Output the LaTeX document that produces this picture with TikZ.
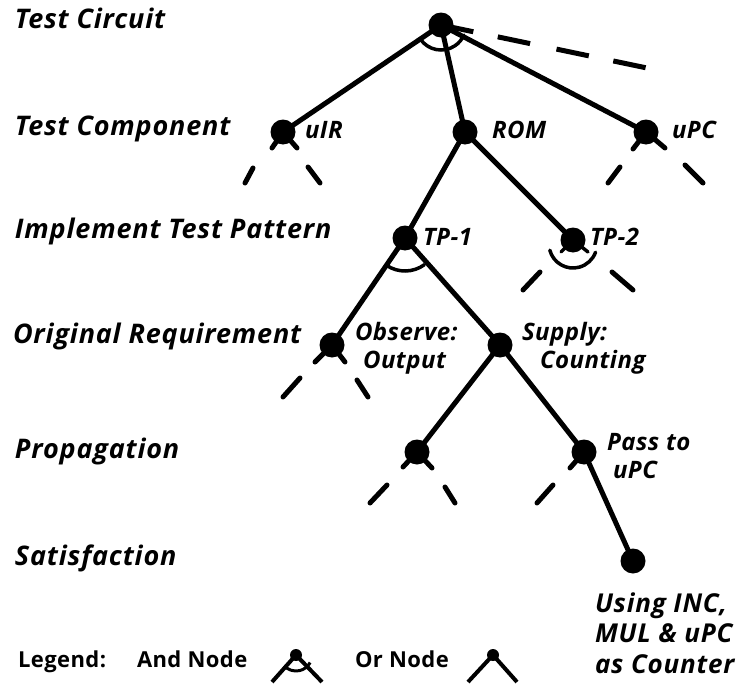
\documentclass[tikz,border=0pt]{standalone}
\usepackage{fontspec}
\setmainfont{Open Sans}
\newfontfamily\spacedfont{Open Sans}[LetterSpace=3]
\newfontfamily\tagfont{Open Sans}[LetterSpace=2]
\begin{document}
\begin{tikzpicture}[x=1pt,y=-1pt,
  every node/.style={inner sep=0pt, outer sep=0pt},
  edge/.style={line width=5pt, line cap=round},
  cupline/.style={line width=3.5pt, line cap=round},
  dot/.style={circle, fill=black, minimum size=25pt},
  smalldot/.style={circle, fill=black, minimum size=12pt},
  level/.style={anchor=base west, font=\spacedfont\fontsize{27}{30}\selectfont\bfseries\itshape},
  tag/.style={anchor=base west, align=left, font=\tagfont\fontsize{24}{28}\selectfont\bfseries\itshape},
  legendtext/.style={anchor=base west, font=\tagfont\fontsize{22}{26}\selectfont\bfseries}]
\useasboundingbox (0,0) rectangle (740,688);

% level captions
\node[level] (l1) at (15,28) {Test Circuit};
\node[level] (l2) at (15,135) {Test Component};
\node[level] (l3) at (15,238) {Implement Test Pattern};
\node[level] (l4) at (13,343) {Original Requirement};
\node[level] (l5) at (15,458) {Propagation};
\node[level] (l6) at (15,565) {Satisfaction};

% tree edges from the root (dots go on top)
\coordinate (rootfar) at (647,68);
\draw[edge] (441,25) coordinate (rc) -- (283,132);
\draw[edge] (rc) -- (465,132);
\draw[edge] (rc) -- (646,132);
\draw[edge, line cap=butt, dash pattern=on 33pt off 25pt on 33pt off 27pt] (rc) -- (rootfar);

% tree nodes
\node[dot] (root) at (441,25) {};
\node[dot] (uir) at (283,132) {};
\node[dot] (rom) at (465,132) {};
\node[dot] (upc) at (646,132) {};
\node[dot] (tp1) at (405,238) {};
\node[dot] (tp2) at (573,240) {};
\node[dot] (obs) at (332,345) {};
\node[dot] (sup) at (500,345) {};
\node[dot] (prl) at (417,452) {};
\node[dot] (pass) at (584,452) {};
\node[dot] (sat) at (633,561) {};

\draw[edge] (rom.center) -- (tp1.center);
\draw[edge] (rom.center) -- (tp2.center);
\draw[edge] (tp1.center) -- (obs.center);
\draw[edge] (tp1.center) -- (sup.center);
\draw[edge] (sup.center) -- (prl.center);
\draw[edge] (sup.center) -- (pass.center);
\draw[edge] (pass.center) -- (sat.center);

% and-cups
\draw[cupline] (root.center) ++(214:25pt) arc[start angle=214, end angle=336, radius=25pt];
\draw[cupline] (tp1.center) ++(236:33pt) arc[start angle=236, end angle=306, radius=33pt];
\draw[cupline] (tp2.center) -- ++(-12,12);
\draw[cupline] (tp2.center) -- ++(15,12);
\draw[cupline] ([yshift=-4pt]tp2.center) ++(195:24pt) arc[start angle=195, end angle=340, radius=24pt];

% unexpanded branches: stub plus dash
\draw[edge] (uir.center) -- ++(-11,16);
\draw[edge] ([shift={(-30,36)}]uir.center) -- ([shift={(-38,51)}]uir.center);
\draw[edge] (uir.center) -- ++(14,16);
\draw[edge] ([shift={(25,35)}]uir.center) -- ([shift={(37,51)}]uir.center);

\draw[edge] (upc.center) -- ++(-13,17);
\draw[edge] ([shift={(-26,35)}]upc.center) -- ([shift={(-38,51)}]upc.center);
\draw[edge] (upc.center) -- ++(19,16);
\draw[edge] ([shift={(39,33)}]upc.center) -- ([shift={(57,51)}]upc.center);

\draw[edge] ([shift={(-33,32)}]tp2.center) -- ([shift={(-50,50)}]tp2.center);
\draw[edge] ([shift={(39,32)}]tp2.center) -- ([shift={(60,50)}]tp2.center);

\draw[edge] (obs.center) -- ++(-17,17);
\draw[edge] ([shift={(-32,33)}]obs.center) -- ([shift={(-49,52)}]obs.center);
\draw[edge] (obs.center) -- ++(13,17);
\draw[edge] ([shift={(25,35)}]obs.center) -- ([shift={(36,52)}]obs.center);

\draw[edge] (prl.center) -- ++(-14,15);
\draw[edge] ([shift={(-30,33)}]prl.center) -- ([shift={(-47,51)}]prl.center);
\draw[edge] (prl.center) -- ++(15,16);
\draw[edge] ([shift={(28,35)}]prl.center) -- ([shift={(38,51)}]prl.center);

\draw[edge] (pass.center) -- ++(-14,16);
\draw[edge] ([shift={(-31,33)}]pass.center) -- ([shift={(-47,51)}]pass.center);

% node tags (base anchor of a multi-line tag is its last line)
\node[tag] (tuir) at (305,138) {uIR};
\node[tag] (trom) at (492,138) {ROM};
\node[tag] (tupc) at (672,138) {uPC};
\node[tag] (ttp1) at (423,245) {TP-1};
\node[tag] (ttp2) at (590,245) {TP-2};
\node[tag] (tobs) at (355,368) {Observe:\\\hspace*{8pt}Output};
\node[tag] (tsup) at (522,368) {Supply:\\\hspace*{18pt}Counting};
\node[tag] (tpass) at (607,478) {Pass to\\\hspace*{6pt}uPC};
\node[tag, font=\spacedfont\fontsize{26}{30.5}\selectfont\bfseries\itshape] (tsat) at (595,673) {Using INC,\\MUL \& uPC\\as Counter};

% legend
\node[legendtext] (leg) at (18,667) {Legend:};
\node[legendtext] (legand) at (137,667) {And Node};
\node[legendtext] (legor) at (355,667) {Or Node};

\node[smalldot] (anddot) at (296,655) {};
\coordinate (andl) at (272,682);
\coordinate (andr) at (322,682);
\draw[line width=4pt] (anddot.center) -- (andl);
\draw[line width=4pt] (anddot.center) -- (andr);
\draw[line width=3pt] (anddot.center) ++(222:16pt) arc[start angle=222, end angle=332, radius=16pt];

\node[smalldot] (ordot) at (493,655) {};
\coordinate (orl) at (468,682);
\coordinate (orr) at (517,682);
\draw[line width=4pt] (ordot.center) -- (orl);
\draw[line width=4pt] (ordot.center) -- (orr);
\end{tikzpicture}
\end{document}
